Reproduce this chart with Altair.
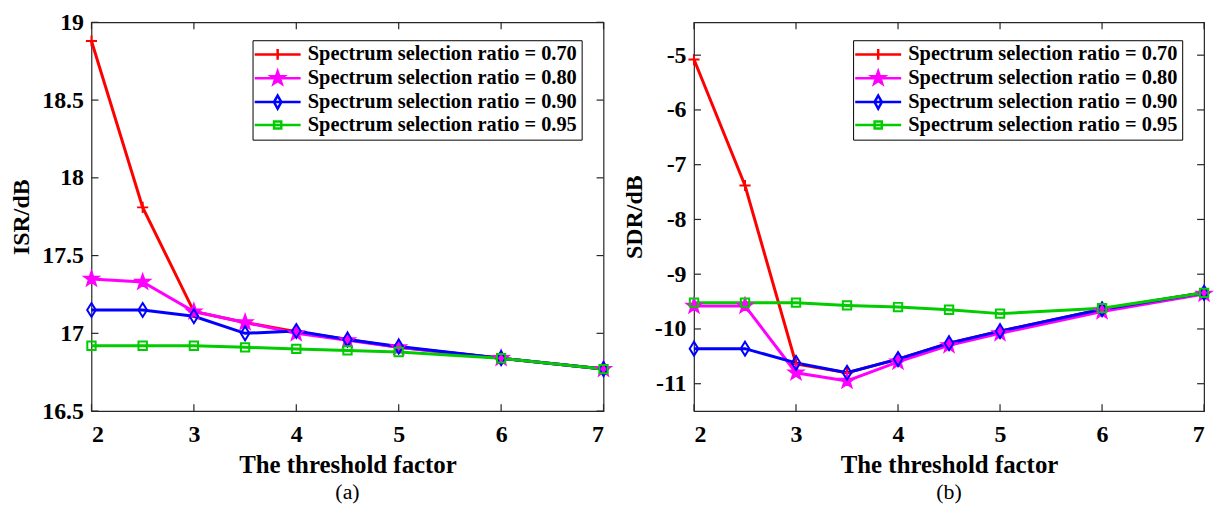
import altair as alt
import pandas as pd

# ---------------- data ----------------
x_vals = [2, 2.5, 3, 3.5, 4, 4.5, 5, 6, 7]
series = [
    "Spectrum selection ratio = 0.70",
    "Spectrum selection ratio = 0.80",
    "Spectrum selection ratio = 0.90",
    "Spectrum selection ratio = 0.95",
]
marker_keys = ["plus", "star", "diamond", "square"]
colors = ["#ff0000", "#ff00ff", "#0000ff", "#00cc00"]

isr_070 = [18.88, 17.81, 17.14, 17.07, 17.01, 16.96, 16.91, 16.84, 16.77]
isr_080 = [17.35, 17.33, 17.14, 17.07, 17.00, 16.955, 16.91, 16.84, 16.77]
isr_090 = [17.15, 17.15, 17.11, 17.00, 17.015, 16.96, 16.915, 16.84, 16.77]
isr_095 = [16.92, 16.92, 16.92, 16.91, 16.90, 16.89, 16.88, 16.84, 16.77]

sdr_070 = [-5.08, -7.38, -10.64, -10.8, -10.55, -10.26, -10.04, -9.64, -9.34]
sdr_080 = [-9.58, -9.58, -10.8, -10.95, -10.6, -10.3, -10.08, -9.68, -9.36]
sdr_090 = [-10.36, -10.36, -10.62, -10.8, -10.55, -10.26, -10.04, -9.64, -9.34]
sdr_095 = [-9.52, -9.52, -9.52, -9.57, -9.6, -9.65, -9.72, -9.62, -9.34]

x_ticks = [2, 3, 4, 5, 6, 7]
isr_ticks = [16.5, 17, 17.5, 18, 18.5, 19]
sdr_ticks = [-11, -10, -9, -8, -7, -6, -5]
isr_domain = [16.5, 19]
sdr_domain = [-11.5, -4.4]

# ---------------- styling ----------------
H = 391
AX = "#262626"
FONT = "Liberation Serif"
TL = 7

# marker outlines (unit box, drawn at size 196 -> 7 px per unit)
marker_paths = [
    "M-0.8,0L0.8,0M0,-0.8L0,0.8",
    "M0,-1.05L0.247,-0.34L1.0,-0.324L0.4,0.13L0.617,0.85L0,0.42L-0.617,0.85L-0.4,0.13L-1.0,-0.324L-0.247,-0.34Z",
    "M0,-1L0.62,0L0,1L-0.62,0Z",
    "M-0.6,-0.6L0.6,-0.6L0.6,0.6L-0.6,0.6Z",
]
marker_fills = ["transparent", "#ff00ff", "transparent", "transparent"]

# legend samples: line + marker (unit box, 6 px per unit)
legend_paths = [
    "M-3.85,0L3.85,0M0,-0.9L0,0.9",
    "M-3.85,0L3.85,0M0,-1.15L0.27,-0.37L1.1,-0.36L0.44,0.14L0.68,0.93L0,0.46L-0.68,0.93L-0.44,0.14L-1.1,-0.36L-0.27,-0.37Z",
    "M-3.85,0L3.85,0M0,-1.1L0.62,0L0,1.1L-0.62,0Z",
    "M-3.85,0L3.85,0M-0.6,-0.6L0.6,-0.6L0.6,0.6L-0.6,0.6Z",
]
lab_list = ",".join("'" + s + "'" for s in series)
shape_expr = "[" + ",".join("'" + p + "'" for p in legend_paths) + "][indexof([" + lab_list + "], datum.value)]"
fill_expr = "datum.value == '" + series[1] + "' ? '#ff00ff' : 'transparent'"


def make_df(vals):
    rows = []
    for s, k, v in zip(series, marker_keys, vals):
        for xx, yy in zip(x_vals, v):
            rows.append({"x": xx, "value": yy, "series": s, "mk": k})
    return pd.DataFrame(rows)


def panel(df, ydomain, yticks, ytitle, tag, lx, ly, W):
    xs = alt.Scale(domain=[2, 7], nice=False, zero=False)
    ys = alt.Scale(domain=ydomain, nice=False, zero=False)
    xaxis = alt.Axis(values=x_ticks, title="The threshold factor", ticks=False, domain=False, grid=False,
                     labelFont=FONT, labelFontSize=24, labelFontWeight="bold", labelColor="black",
                     labelPadding=12, labelExpr="'' + datum.value",
                     titleFont=FONT, titleFontSize=25, titleFontWeight="bold", titleColor="black",
                     titlePadding=6)
    yaxis = alt.Axis(values=yticks, title=ytitle, ticks=False, domain=False, grid=False,
                     labelFont=FONT, labelFontSize=24, labelFontWeight="bold", labelColor="black",
                     labelPadding=8, labelExpr="'' + datum.value",
                     titleFont=FONT, titleFontSize=24, titleFontWeight="bold", titleColor="black",
                     titlePadding=8)
    legend = alt.Legend(
        orient="none", legendX=lx, legendY=ly, title=None,
        labelFont=FONT, labelFontSize=20.5, labelFontWeight="bold", labelColor="black", labelLimit=0,
        strokeColor="black", fillColor="white", padding=4, rowPadding=1,
        symbolSize=144, symbolStrokeWidth=2.5, symbolOffset=11, labelOffset=20,
        symbolType=alt.ExprRef(expr=shape_expr),
        symbolFillColor=alt.ExprRef(expr=fill_expr),
    )
    X = alt.X("x:Q", scale=xs, axis=xaxis)
    Y = alt.Y("value:Q", scale=ys, axis=yaxis)
    base = alt.Chart(df)
    lines = base.mark_line(strokeWidth=3).encode(
        x=X, y=Y,
        color=alt.Color("series:N", scale=alt.Scale(domain=series, range=colors), legend=legend, sort=series),
        order=alt.Order("x:Q"),
    )
    points = base.mark_point(filled=False, strokeWidth=2, opacity=1, size=196).encode(
        x=X, y=Y,
        stroke=alt.Stroke("mk:N", scale=alt.Scale(domain=marker_keys, range=colors), legend=None),
        shape=alt.Shape("mk:N", scale=alt.Scale(domain=marker_keys, range=marker_paths), legend=None),
        fill=alt.Fill("mk:N", scale=alt.Scale(domain=marker_keys, range=marker_fills), legend=None),
    )
    ydf = pd.DataFrame({"value": yticks})
    xdf = pd.DataFrame({"x": x_ticks})
    r_left = alt.Chart(ydf).mark_rule(color=AX, strokeWidth=1.2).encode(
        y=Y, x=alt.value(0), x2=alt.value(TL))
    r_right = alt.Chart(ydf).mark_rule(color=AX, strokeWidth=1.2).encode(
        y=Y, x=alt.value(W - TL), x2=alt.value(W))
    r_bot = alt.Chart(xdf).mark_rule(color=AX, strokeWidth=1.2).encode(
        x=X, y=alt.value(H - TL), y2=alt.value(H))
    r_top = alt.Chart(xdf).mark_rule(color=AX, strokeWidth=1.2).encode(
        x=X, y=alt.value(0), y2=alt.value(TL))
    return alt.layer(lines, points, r_left, r_right, r_bot, r_top).properties(
        width=W, height=H,
        title=alt.TitleParams(tag, orient="bottom", font=FONT, fontSize=22, fontWeight="normal",
                              color="black", offset=4),
    )


left = panel(make_df([isr_070, isr_080, isr_090, isr_095]), isr_domain, isr_ticks, "ISR/dB", "(a)", 162, 18, 515)
right = panel(make_df([sdr_070, sdr_080, sdr_090, sdr_095]), sdr_domain, sdr_ticks, "SDR/dB", "(b)", 160, 18, 513)

chart = alt.hconcat(left, right, spacing=6).properties(
    padding={"left": 9, "top": 8, "right": 0, "bottom": 0},
    background="white",
).configure_view(stroke=AX, strokeWidth=1.2).resolve_scale(color="independent", shape="independent",
                                                          stroke="independent", fill="independent")

chart.save("out.html", embed_options={"renderer": "svg", "actions": False})
